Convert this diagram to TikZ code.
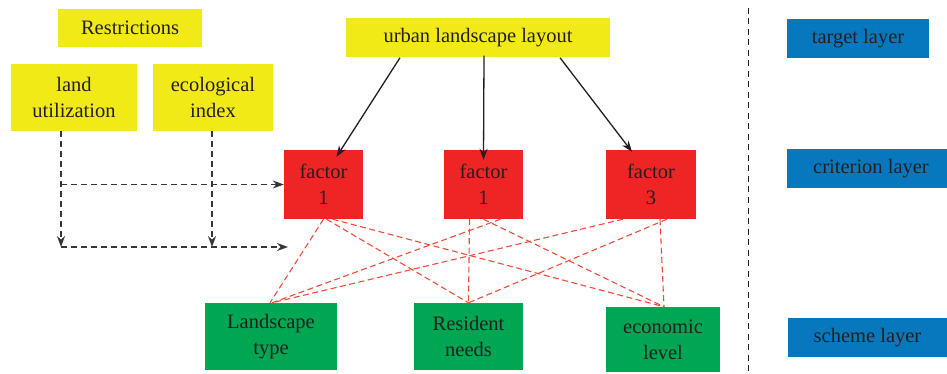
\documentclass[tikz,border=0pt]{standalone}
\usepackage{fontspec}
\setmainfont{Liberation Serif}
\usetikzlibrary{arrows.meta}
\definecolor{ylw}{HTML}{F2EA17}
\definecolor{rd}{HTML}{EE2524}
\definecolor{grn}{HTML}{00A651}
\definecolor{blu}{HTML}{0878BE}
\definecolor{txt}{HTML}{231F20}
\definecolor{rline}{HTML}{EF4B3A}
\tikzset{
  box/.style={inner sep=0pt, align=center, text=txt, font=\fontsize{20.5}{26}\selectfont},
  ybox/.style={box, fill=ylw},
  rbox/.style={box, fill=rd},
  gbox/.style={box, fill=grn},
  bbox/.style={box, fill=blu},
  blackarrow/.style={draw=txt, line width=1.3pt, -{Stealth[length=11pt,width=8pt]}},
  dasharrow/.style={draw=txt!90, line width=1.3pt, dash pattern=on 6pt off 4pt, -{Stealth[length=11pt,width=8pt]}},
  redline/.style={draw=rline, line width=1.1pt, dash pattern=on 6pt off 3.5pt},
}
\begin{document}
\begin{tikzpicture}[x=1pt,y=-1pt]
\useasboundingbox (0,0) rectangle (947,374);
% yellow
\node[ybox, minimum width=144pt, minimum height=38pt] (res) at (130,28) {Restrictions};
\node[ybox, minimum width=126pt, minimum height=67pt] (lu) at (74,97.5) {land\\utilization};
\node[ybox, minimum width=120pt, minimum height=67pt] (eco) at (213,97.5) {ecological\\index};
\node[ybox, minimum width=264pt, minimum height=39pt] (top) at (478,38) {urban landscape layout};
% red
\node[rbox, minimum width=79pt, minimum height=69pt] (f1) at (323.5,184.5) {factor\\1};
\node[rbox, minimum width=79pt, minimum height=69pt] (f2) at (483.5,184.5) {factor\\1};
\node[rbox, minimum width=90pt, minimum height=69pt] (f3) at (651,184.5) {factor\\3};
% green
\node[gbox, minimum width=132pt, minimum height=67pt] (lt) at (271,336.5) {Landscape\\type};
\node[gbox, minimum width=109pt, minimum height=67pt] (rn) at (468.5,336.5) {Resident\\needs};
\node[gbox, minimum width=114pt, minimum height=65pt] (el) at (663,339.5) {economic\\level};
% blue
\node[bbox, minimum width=142pt, minimum height=39pt] (tl) at (858,38.5) {target layer};
\node[bbox, minimum width=160pt, minimum height=39pt] (cl) at (867,168.5) {\hspace*{8pt}criterion layer};
\node[bbox, minimum width=159pt, minimum height=39pt] (sl) at (867.5,337.5) {scheme layer};
% separator
\coordinate (s1) at (748,8);
\coordinate (s2) at (748,374);
\draw[txt, line width=1pt, dash pattern=on 6pt off 4.5pt] (s1) -- (s2);
% black arrows
\draw[blackarrow] ([xshift=-78pt]top.south) -- ([xshift=13pt,yshift=-7pt]f1.north);
\draw[blackarrow] ([xshift=6pt,yshift=2pt]top.south) -- ([yshift=-10pt]f2.north);
\draw[blackarrow] ([xshift=82pt]top.south) -- ([xshift=-19pt,yshift=-2pt]f3.north);
% dashed arrows on left
\coordinate (j1) at (61,184.5);
\coordinate (j2) at (61,247);
\coordinate (j3) at (212,247);
\coordinate (e1) at (288,247);
\draw[dasharrow] ([xshift=-13pt]lu.south) -- (j2);
\draw[dasharrow] (j1) -- (f1.west);
\draw[dasharrow] ([xshift=-1pt]eco.south) -- (j3);
\draw[dasharrow] (j2) -- (e1);
% red dashed lines
\draw[redline] ([xshift=0pt]f1.south) -- ([xshift=-1pt]lt.north);
\draw[redline] ([xshift=3pt]f1.south) -- ([xshift=0pt]rn.north);
\draw[redline] ([xshift=9pt]f1.south) -- ([xshift=1pt]el.north);
\draw[redline] ([xshift=17pt]f2.south) -- ([xshift=1pt]lt.north);
\draw[redline] ([xshift=-14pt]f2.south) -- ([xshift=0pt]rn.north);
\draw[redline] ([xshift=0pt]f2.south) -- ([xshift=1pt]el.north);
\draw[redline] ([xshift=-28pt]f3.south) -- ([xshift=1pt]lt.north);
\draw[redline] ([xshift=16pt]f3.south) -- ([xshift=0pt]rn.north);
\draw[redline] ([xshift=9pt]f3.south) -- ([xshift=1pt]el.north);
\end{tikzpicture}
\end{document}
